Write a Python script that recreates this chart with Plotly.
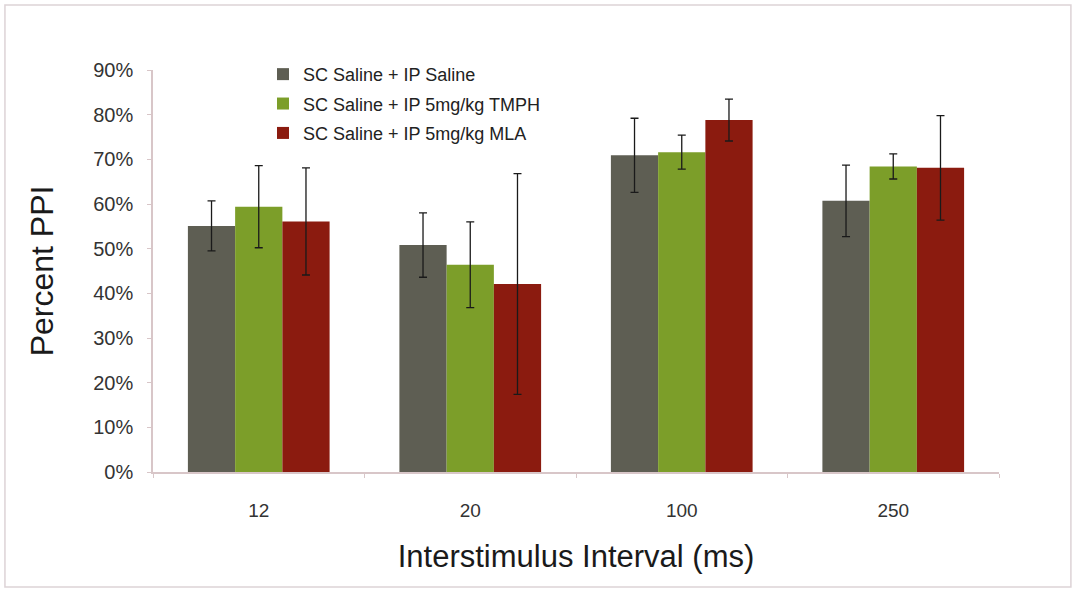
import plotly.graph_objects as go

# Interstimulus intervals (ms) on the x axis
intervals = ["12", "20", "100", "250"]

# Treatment groups
groups = [
    "SC Saline + IP Saline",
    "SC Saline + IP 5mg/kg TMPH",
    "SC Saline + IP 5mg/kg MLA",
]

# Mean percent PPI per group, one value per interval
ppi_saline = [55.1, 50.8, 70.9, 60.7]
ppi_tmph = [59.4, 46.4, 71.6, 68.4]
ppi_mla = [56.1, 42.1, 78.8, 68.1]

# Error (+/-) per group
err_saline = [5.6, 7.2, 8.3, 8.0]
err_tmph = [9.2, 9.6, 3.8, 2.8]
err_mla = [12.0, 24.7, 4.7, 11.7]

colors = ["#5e5e53", "#7c9e29", "#8b1b0f"]

fig = go.Figure()
for name, vals, errs, col in zip(
    groups,
    [ppi_saline, ppi_tmph, ppi_mla],
    [err_saline, err_tmph, err_mla],
    colors,
):
    fig.add_trace(
        go.Bar(
            x=intervals,
            y=vals,
            name=name,
            legendgroup=name,
            marker=dict(color=col, line=dict(width=0)),
            error_y=dict(
                type="data",
                array=errs,
                visible=True,
                color="#1a1a1a",
                thickness=1.3,
                width=4,
            ),
        )
    )

font_family = "Liberation Sans, Arial, sans-serif"

fig.update_layout(
    width=1075,
    height=590,
    barmode="group",
    bargap=0.33,
    bargroupgap=0,
    paper_bgcolor="white",
    plot_bgcolor="white",
    margin=dict(l=153, r=76, t=70, b=118),
    font=dict(family=font_family, color="#333333"),
    showlegend=True,
    legend=dict(
        x=0.13,
        y=1.035,
        xanchor="left",
        yanchor="top",
        bgcolor="rgba(0,0,0,0)",
        font=dict(size=18, color="#222222"),
        traceorder="grouped",
        tracegroupgap=3,
        itemsizing="constant",
    ),
    xaxis=dict(
        type="category",
        showline=True,
        linecolor="#d8c6c8",
        linewidth=1.5,
        ticks="outside",
        tickson="boundaries",
        ticklen=4,
        tickcolor="#d8c6c8",
        tickfont=dict(size=19, color="#333333"),
        ticklabelstandoff=20,
        showgrid=False,
        zeroline=False,
        title=dict(
            text="Interstimulus Interval (ms)",
            font=dict(size=31, color="#1a1a1a"),
            standoff=26,
        ),
    ),
    yaxis=dict(
        range=[0, 90],
        tickmode="linear",
        tick0=0,
        dtick=10,
        ticksuffix="%",
        showline=True,
        linecolor="#d8c6c8",
        linewidth=1.5,
        ticks="outside",
        ticklen=4,
        tickcolor="#d8c6c8",
        tickfont=dict(size=20, color="#333333"),
        ticklabelstandoff=10,
        showgrid=False,
        zeroline=False,
        title=dict(
            text="Percent PPI",
            font=dict(size=32, color="#1a1a1a"),
            standoff=30,
        ),
    ),
    shapes=[
        dict(
            type="rect",
            xref="paper",
            yref="paper",
            x0=-0.175,
            x1=1.085,
            y0=-0.286,
            y1=1.1617,
            line=dict(color="#ddd3d6", width=1.5),
            fillcolor="rgba(0,0,0,0)",
            layer="below",
        )
    ],
)

fig.write_html("out.html")
